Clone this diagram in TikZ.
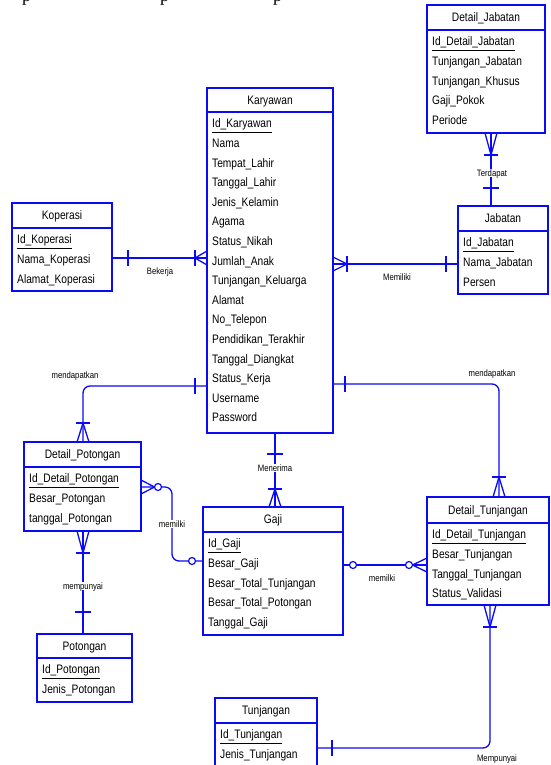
\documentclass[tikz,border=0pt]{standalone}
\usepackage{fontspec}
\setmainfont{Liberation Sans}[FakeStretch=0.83]
\newfontfamily\docserif{Liberation Serif}

\definecolor{erblue}{RGB}{10,10,245}

\tikzset{
  entbox/.style={draw=erblue, line width=1.4pt, inner sep=0pt, outer sep=0pt, anchor=north west},
  hdrline/.style={draw=erblue, line width=1.2pt},
  titletext/.style={font=\fontsize{12.3}{14}\selectfont, inner sep=0pt, text height=8.8pt, text depth=0pt},
  attrtext/.style={titletext, anchor=west},
  rel/.style={draw=erblue, line width=1.3pt},
  rellabel/.style={font=\fontsize{9.3}{11}\selectfont, inner sep=1pt, text height=6.7pt, text depth=0pt, fill=white},
  optcircle/.style={draw=erblue, line width=1.2pt, fill=white},
}

% entity: name, left, top, right, bottom, header-rule y, title, attributes
\newcommand\entity[8]{%
  \node[entbox, minimum width={(#4-#2)*1pt}, minimum height={(#5-#3)*1pt}] (#1) at (#2,#3) {};
  \draw[hdrline] (#2,#6) -- (#4,#6);
  \node[titletext] at ({(#2+#4)/2},{(#3+#6)/2}) {#7};
  \foreach \att [count=\k from 0] in {#8}
    \node[attrtext] at ({#2+5},{#6+11.5+19.6*\k}) {\att};
}
% crow's foot with a bar at its vertex, vertical connector: x, vertex y, edge y
\newcommand\crowv[3]{%
  \draw[rel] (#1,#2) -- ({#1-6},#3) (#1,#2) -- ({#1+6},#3);
  \draw[rel] ({#1-7},#2) -- ({#1+7},#2);}
% same for a horizontal connector: y, vertex x, edge x
\newcommand\crowh[3]{%
  \draw[rel] (#2,#1) -- (#3,{#1-7}) (#2,#1) -- (#3,{#1+7});
  \draw[rel] (#2,{#1-8}) -- (#2,{#1+8});}
% single bars
\newcommand\barv[2]{\draw[rel] ({#1-8},#2) -- ({#1+8},#2);}
\newcommand\barh[2]{\draw[rel] (#1,{#2-8}) -- (#1,{#2+8});}

\begin{document}
\begin{tikzpicture}[x=1pt,y=-1pt]
\useasboundingbox (0,0) rectangle (551,765);

% tail of the text line above the figure
\foreach \px in {22,160,273}
  \node[font=\docserif\fontsize{18}{20}\selectfont, inner sep=0pt, anchor=base west] at (\px,1.5) {p};

% entities
\entity{dj}{427}{5}{545}{133}{30}{Detail\_Jabatan}{\underline{Id\_Detail\_Jabatan},Tunjangan\_Jabatan,Tunjangan\_Khusus,Gaji\_Pokok,Periode}
\entity{kar}{207}{88}{333}{433}{112}{Karyawan}{\underline{Id\_Karyawan},Nama,Tempat\_Lahir,Tanggal\_Lahir,Jenis\_Kelamin,Agama,Status\_Nikah,Jumlah\_Anak,Tunjangan\_Keluarga,Alamat,No\_Telepon,Pendidikan\_Terakhir,Tanggal\_Diangkat,Status\_Kerja,Username,Password}
\entity{kop}{12}{203}{112}{291}{228}{Koperasi}{\underline{Id\_Koperasi},Nama\_Koperasi,Alamat\_Koperasi}
\entity{jab}{458}{206}{548}{294}{231}{Jabatan}{\underline{Id\_Jabatan},Nama\_Jabatan,Persen}
\entity{dp}{24}{442}{141}{531}{467}{Detail\_Potongan}{\underline{Id\_Detail\_Potongan},Besar\_Potongan,tanggal\_Potongan}
\entity{pot}{37}{634}{132}{702}{658}{Potongan}{\underline{Id\_Potongan},Jenis\_Potongan}
\entity{gaji}{203}{507}{343}{635}{532}{Gaji}{\underline{Id\_Gaji},Besar\_Gaji,Besar\_Total\_Tunjangan,Besar\_Total\_Potongan,Tanggal\_Gaji}
\entity{dt}{427}{497}{549}{605}{523}{Detail\_Tunjangan}{\underline{Id\_Detail\_Tunjangan},Besar\_Tunjangan,Tanggal\_Tunjangan,Status\_Validasi}
\entity{tun}{215}{698}{317}{785}{723}{Tunjangan}{\underline{Id\_Tunjangan},Jenis\_Tunjangan}

% Koperasi -- Karyawan
\draw[rel] (kop.east |- 0,258) -- (kar.west |- 0,258);
\barh{128}{258}
\crowh{258}{195}{207}
\node[rellabel] at (160,271) {Bekerja};

% Karyawan -- Jabatan
\draw[rel] (kar.east |- 0,264) -- (jab.west |- 0,264);
\crowh{264}{347}{333}
\barh{446}{264}
\node[rellabel] at (397,277) {Memiliki};

% Detail_Jabatan -- Jabatan
\draw[rel] (dj.south -| 491,0) -- (jab.north -| 491,0);
\crowv{491}{155}{133}
\barv{491}{188}
\node[rellabel] at (492,173) {Terdapat};

% Karyawan -- Detail_Potongan
\draw[rel, rounded corners=7pt] (kar.west |- 0,386) -| (dp.north -| 83,0);
\barh{195}{386}
\crowv{83}{423}{442}
\node[rellabel] at (75,375) {mendapatkan};

% Karyawan -- Detail_Tunjangan
\draw[rel, rounded corners=7pt] (kar.east |- 0,384) -| (dt.north -| 499,0);
\barh{345}{384}
\crowv{499}{477}{497}
\node[rellabel] at (492,373) {mendapatkan};

% Karyawan -- Gaji
\draw[rel] (kar.south -| 275,0) -- (gaji.north -| 275,0);
\barv{275}{454}
\crowv{275}{489}{507}
\node[rellabel] at (275,468) {Menerima};

% Detail_Potongan -- Potongan
\draw[rel] (dp.south -| 83,0) -- (pot.north -| 83,0);
\crowv{83}{553}{531}
\barv{83}{612}
\node[rellabel] at (83,586) {mempunyai};

% Detail_Potongan -- Gaji (optional on both ends)
\draw[rel, rounded corners=7pt] (dp.east |- 0,487) -| (172,524) |- (gaji.west |- 0,561);
\draw[rel] (154.5,487) -- (dp.east |- 0,480) (154.5,487) -- (dp.east |- 0,494);
\draw[optcircle] (158,487) circle[radius=3.5pt];
\draw[optcircle] (192,561) circle[radius=3.5pt];
\node[rellabel] at (172,524) {memilki};

% Gaji -- Detail_Tunjangan (optional on both ends)
\draw[rel] (gaji.east |- 0,565) -- (dt.west |- 0,565);
\draw[rel] (412.5,565) -- (dt.west |- 0,558) (412.5,565) -- (dt.west |- 0,572);
\draw[optcircle] (353,565) circle[radius=3.5pt];
\draw[optcircle] (409,565) circle[radius=3.5pt];
\node[rellabel] at (382,578) {memilki};

% Detail_Tunjangan -- Tunjangan
\draw[rel, rounded corners=7pt] (dt.south -| 490,0) |- (tun.east |- 0,748);
\crowv{490}{627}{605}
\barh{332}{748}
\node[rellabel] at (497,758) {Mempunyai};
\end{tikzpicture}
\end{document}
